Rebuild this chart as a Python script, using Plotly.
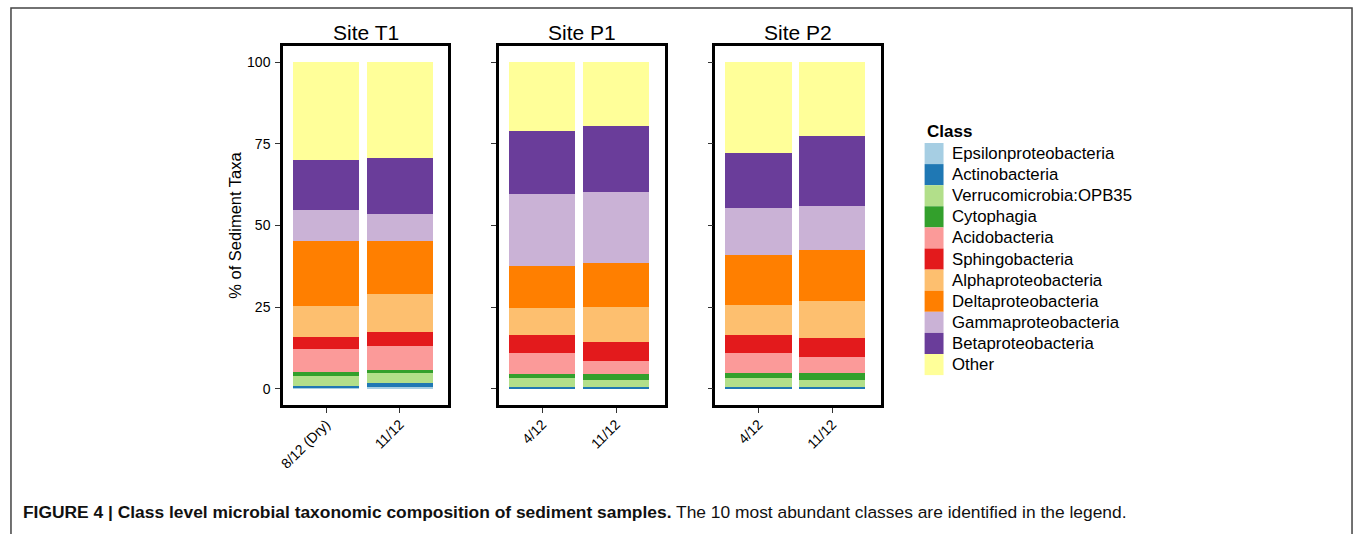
import plotly.graph_objects as go

# ---------------- data ----------------
classes = ["Epsilonproteobacteria", "Actinobacteria", "Verrucomicrobia:OPB35", "Cytophagia",
           "Acidobacteria", "Sphingobacteria", "Alphaproteobacteria", "Deltaproteobacteria",
           "Gammaproteobacteria", "Betaproteobacteria", "Other"]
colors = ["#A6CEE3", "#1F78B4", "#B2DF8A", "#33A02C", "#FB9A99", "#E31A1C",
          "#FDBF6F", "#FF7F00", "#CAB2D6", "#6A3D9A", "#FFFF99"]

sites = ["Site T1", "Site P1", "Site P2"]
samples_T1 = ["8/12 (Dry)", "11/12"]
samples_P1 = ["4/12", "11/12"]
samples_P2 = ["4/12", "11/12"]

# values per class (same order as classes), two samples each
T1_a = [0.1, 0.8, 2.9, 1.4, 7.1, 3.4, 9.7, 19.8, 9.5, 15.3, 30.0]
T1_b = [0.4, 1.2, 3.3, 0.9, 7.3, 4.2, 11.8, 16.1, 8.2, 17.3, 29.3]
P1_a = [0.1, 0.4, 2.9, 1.2, 6.4, 5.3, 8.5, 12.7, 22.2, 19.3, 21.0]
P1_b = [0.2, 0.4, 2.2, 1.7, 4.1, 5.8, 10.7, 13.3, 21.8, 20.3, 19.5]
P2_a = [0.1, 0.5, 2.6, 1.7, 6.1, 5.5, 9.2, 15.3, 14.4, 16.7, 27.9]
P2_b = [0.1, 0.5, 2.1, 2.1, 4.8, 5.8, 11.4, 15.8, 13.4, 21.4, 22.6]

y_ticks = [0, 25, 50, 75, 100]
y_title = "% of Sediment Taxa"
legend_title = "Class"
caption_bold = "FIGURE 4 | Class level microbial taxonomic composition of sediment samples."
caption_rest = " The 10 most abundant classes are identified in the legend."

# ---------------- figure ----------------
W, H = 1358, 534
FONT = "Liberation Sans, Arial, sans-serif"

panels = [
    (samples_T1, T1_a, T1_b, "x", "y"),
    (samples_P1, P1_a, P1_b, "x2", "y2"),
    (samples_P2, P2_a, P2_b, "x3", "y3"),
]

fig = go.Figure()
for ci, cname in enumerate(classes):
    for samples, va, vb, xa, ya in panels:
        fig.add_trace(go.Bar(
            x=samples, y=[va[ci], vb[ci]], name=cname,
            marker=dict(color=colors[ci], line=dict(width=0)),
            xaxis=xa, yaxis=ya, showlegend=False,
            hovertemplate=cname + ": %{y}<extra></extra>",
        ))

def px_x(p):
    return p / W

def px_y(p):
    return 1 - p / H

panel_left = [279, 496, 713]
panel_w = 166
frame_top, frame_bot = 46, 405

axis_common = dict(showline=True, linecolor="black", linewidth=2.5, mirror=True,
                   showgrid=False, zeroline=False, ticks="outside", ticklen=5,
                   tickcolor="#333", tickwidth=1)

layout = dict(
    width=W, height=H, autosize=False,
    margin=dict(l=0, r=0, t=0, b=0),
    paper_bgcolor="white", plot_bgcolor="white",
    barmode="stack", bargap=0.1,
    font=dict(family=FONT, color="black"),
    showlegend=False,
)
for i, left in enumerate(panel_left):
    sfx = "" if i == 0 else str(i + 1)
    layout["xaxis" + sfx] = dict(
        axis_common, domain=[px_x(left), px_x(left + panel_w)],
        anchor="y" + sfx, range=[-0.585, 1.658], type="category",
        tickangle=-45, tickfont=dict(size=14, family=FONT), ticklabelstandoff=-2,
    )
    layout["yaxis" + sfx] = dict(
        axis_common, domain=[px_y(frame_bot), px_y(frame_top)],
        anchor="x" + sfx, range=[-5, 105], tickvals=y_ticks,
        showticklabels=(i == 0), tickfont=dict(size=14, family=FONT),
        ticklabelstandoff=2,
    )
layout["yaxis"]["title"] = dict(text=y_title, font=dict(size=16.5, family=FONT), standoff=2)
fig.update_layout(**layout)

# site titles
for i, left in enumerate(panel_left):
    fig.add_annotation(x=px_x(left + panel_w / 2), y=px_y(32), xref="paper", yref="paper",
                       text=sites[i], showarrow=False, font=dict(size=21, family=FONT),
                       xanchor="center", yanchor="middle")

# manual legend
leg_x0, leg_top, sw_w, sw_h = 923, 143, 19, 21.1
fig.add_annotation(x=px_x(leg_x0), y=px_y(131), xref="paper", yref="paper",
                   text="<b>" + legend_title + "</b>", showarrow=False,
                   font=dict(size=17, family=FONT), xanchor="left", yanchor="middle")
for ci, cname in enumerate(classes):
    y0 = leg_top + ci * sw_h
    fig.add_shape(type="rect", xref="paper", yref="paper",
                  x0=px_x(leg_x0), x1=px_x(leg_x0 + sw_w),
                  y0=px_y(y0 + sw_h), y1=px_y(y0),
                  fillcolor=colors[ci], line=dict(width=0))
    fig.add_annotation(x=px_x(leg_x0 + 25), y=px_y(y0 + sw_h / 2), xref="paper", yref="paper",
                       text=cname, showarrow=False, font=dict(size=16.8, family=FONT),
                       xanchor="left", yanchor="middle")

# outer frame of the figure
fig.add_shape(type="rect", xref="paper", yref="paper",
              x0=px_x(6), x1=px_x(1352), y0=px_y(560), y1=px_y(8),
              line=dict(color="#444", width=1.5), fillcolor="rgba(0,0,0,0)")

# caption
CAP_FONT = "Liberation Sans Narrow, Arial Narrow, Liberation Sans, sans-serif"
fig.add_annotation(x=px_x(16), y=px_y(512), xref="paper", yref="paper",
                   text="<b>" + caption_bold + "</b>" + caption_rest, showarrow=False,
                   font=dict(size=17.4, family=CAP_FONT, color="#111"),
                   xanchor="left", yanchor="middle")

fig.write_html("out.html", config={"displayModeBar": False},
               post_script="document.body.style.margin='0';document.body.style.overflow='hidden';")
